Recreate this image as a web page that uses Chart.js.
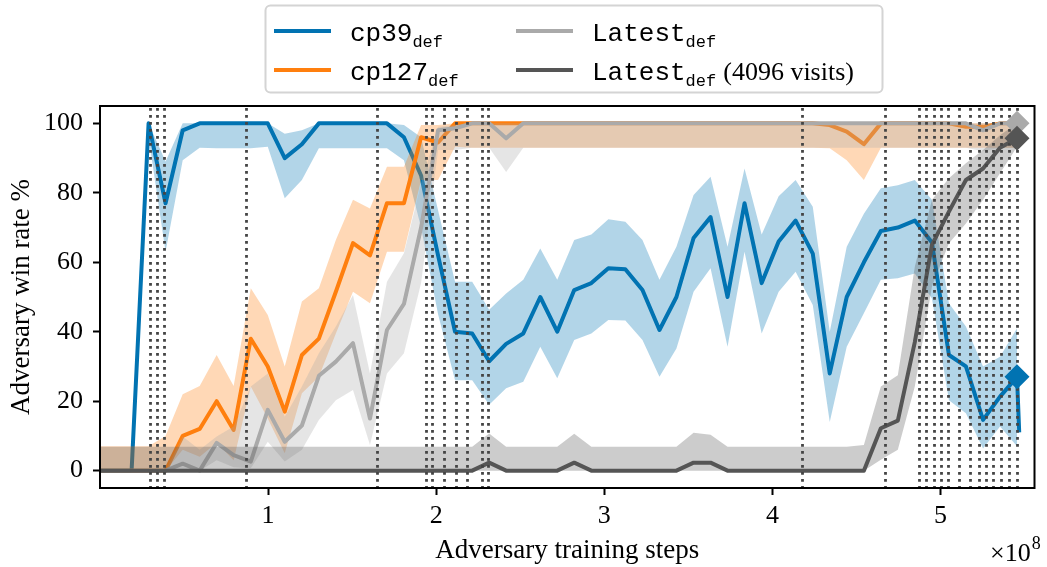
<!DOCTYPE html>
<html>
<head>
<meta charset="utf-8">
<script src="https://cdn.jsdelivr.net/npm/chart.js@4.4.1/dist/chart.umd.min.js"></script>
<style>
  html, body { margin: 0; padding: 0; background: #fff; }
  #wrap { width: 1047px; height: 567px; }
</style>
</head>
<body>
<div id="wrap"><canvas id="winRateChart" width="1047" height="567"></canvas></div>
<script>
// adversary checkpoints, in units of 1e8 training steps
const steps = [-0.015, 0.086, 0.188, 0.289, 0.390, 0.492, 0.593, 0.694, 0.795, 0.897,
  0.998, 1.099, 1.201, 1.302, 1.403, 1.505, 1.606, 1.707, 1.808, 1.910,
  2.011, 2.112, 2.214, 2.315, 2.416, 2.518, 2.619, 2.720, 2.821, 2.923,
  3.024, 3.125, 3.227, 3.328, 3.429, 3.531, 3.632, 3.733, 3.834, 3.936,
  4.037, 4.138, 4.240, 4.341, 4.442, 4.544, 4.645, 4.746, 4.847, 4.949,
  5.050, 5.151, 5.253, 5.354, 5.455];

const cp39 = [0, 0, 0, 100, 77, 98, 100, 100, 100, 100,
  100, 90, 94, 100, 100, 100, 100, 100, 96, 85,
  62, 40, 39.5, 31.5, 36.5, 39.5, 50, 40, 52, 54,
  58.3, 58, 52, 40.5, 50, 67, 73, 50, 77, 54,
  66, 72, 62.5, 28, 50, 60, 69, 70, 72, 65.7,
  33.3, 30, 14.6, 21.3, 27];
const cp39Hi = [0, 0, 0, 100, 89, 100, 100, 100, 100, 100,
  100, 97, 98, 100, 100, 100, 100, 100, 99.5, 96,
  75, 54.4, 54.4, 46.3, 51, 55, 64, 55, 66.4, 68,
  72.4, 71.7, 66.4, 55, 64.5, 79.4, 84.6, 64.5, 87, 68,
  79, 83.7, 76, 40, 64.5, 74, 81.3, 82.2, 83.7, 78,
  48.2, 41.5, 30, 32.8, 41];
const cp39Lo = [0, 0, 0, 96, 63, 89.4, 93, 92.8, 92.8, 92.8,
  93.3, 78.4, 83.7, 92.8, 92.8, 92.8, 92.8, 92.8, 89.4, 70,
  45, 26, 26, 19, 23.7, 25.6, 35.7, 26.6, 37.6, 39.5,
  43.4, 43.2, 37.6, 27, 35.2, 51.5, 58.3, 35.7, 63, 39.5,
  51.5, 57.3, 47.7, 14, 35.7, 45.3, 55, 55.4, 56.8, 49.6,
  20.3, 16.5, 6.4, 12.7, 7];
const cp39TailX = [5.468];
const cp39TailY = [11];

const cp127 = [0, 0, 0, 0, 0, 10, 12, 20, 11.7, 38,
  30, 17, 33.3, 38, 51.5, 65.5, 62, 77, 77, 96,
  94.5, 100, 100, 100, 100, 100, 100, 100, 100, 100,
  100, 100, 100, 100, 100, 100, 100, 100, 100, 100,
  100, 100, 100, 99.5, 97.6, 94, 100, 100, 100, 100,
  100, 99, 99, 100, 100];
const cp127Hi = [7, 7, 7, 7, 10, 22, 24.4, 33.3, 24.4, 52.5,
  44.8, 30, 48.7, 52.5, 66.4, 78, 75.5, 87.5, 87.5, 99.5,
  99.5, 100, 100, 100, 100, 100, 100, 100, 100, 100,
  100, 100, 100, 100, 100, 100, 100, 100, 100, 100,
  100, 100, 100, 100, 100, 100, 100, 100, 100, 100,
  100, 100, 100, 100, 100];
const cp127Lo = [0, 0, 0, 0, 0, 6, 4, 8, 3, 24.2,
  15, 5, 22.3, 27, 39.5, 51.5, 48.2, 63, 63, 83.7,
  83.7, 93.3, 93, 93, 93, 93, 93, 93, 93, 93,
  93, 93, 93, 93, 93, 93, 93, 93, 93, 93,
  93, 93, 93, 92.8, 89.4, 83.7, 93, 93, 93, 93,
  93, 93, 93, 93, 93];

const latest = [0, 0, 0, 0, 0, 2, 0, 8, 4.5, 2.6,
  17.5, 8.3, 13, 27.3, 31.4, 36.7, 15, 40.5, 48, 70,
  98, 98.6, 100, 100, 95.7, 100, 100, 100, 100, 100,
  100, 100, 100, 100, 100, 100, 100, 100, 100, 100,
  100, 100, 100, 100, 100, 100, 100, 100, 100, 100,
  100, 100, 98, 100, 100];
const latestHi = [0, 0, 0, 0, 0, 9.8, 6, 9.8, 12.7, 24.2,
  28, 15.5, 24.2, 33.8, 41.5, 50.6, 28, 54.4, 62.6, 82.7,
  99, 99.5, 100, 100, 100, 100, 100, 100, 100, 100,
  100, 100, 100, 100, 100, 100, 100, 100, 100, 100,
  100, 100, 100, 100, 100, 100, 100, 100, 100, 100,
  100, 100, 100, 100, 100];
const latestLo = [0, 0, 0, 0, 0, 0, 0, 3, 1, 0.7,
  8.3, 2.6, 6, 14.6, 20.3, 23.2, 7.4, 28, 33.8, 54,
  92.3, 92.3, 93, 93, 86, 93, 93, 93, 93, 93,
  93, 93, 93, 93, 93, 93, 93, 93, 93, 93,
  93, 93, 93, 93, 93, 93, 93, 93, 93, 93,
  93, 93, 92, 93, 93];

const latest4096 = [0, 0, 0, 0, 0, 0, 0, 0, 0, 0,
  0, 0, 0, 0, 0, 0, 0, 0, 0, 0,
  0, 0, 0, 2.3, 0, 0, 0, 0, 2.3, 0,
  0, 0, 0, 0, 0, 2.3, 2.3, 0, 0, 0,
  0, 0, 0, 0, 0, 0, 12.2, 14.4, 37, 65,
  74.6, 83.7, 87, 93, 95.7];
const latest4096Hi = [6.9, 6.9, 6.9, 6.9, 6.9, 6.9, 6.9, 6.9, 6.9, 6.9,
  6.9, 6.9, 6.9, 6.9, 6.9, 6.9, 6.9, 6.9, 6.9, 6.9,
  6.9, 6.9, 6.9, 10.7, 6.9, 6.9, 6.9, 6.9, 10.6, 6.9,
  6.9, 6.9, 6.9, 6.9, 6.9, 10.9, 10.3, 6.9, 6.9, 6.9,
  6.9, 6.9, 6.9, 6.9, 6.9, 7.4, 24.2, 27.5, 58.7, 78,
  84.2, 88.5, 92.3, 96.6, 100];
const latest4096Lo = [0, 0, 0, 0, 0, 0, 0, 0, 0, 0,
  0, 0, 0, 0, 0, 0, 0, 0, 0, 0,
  0, 0, 0, 0, 0, 0, 0, 0, 0, 0,
  0, 0, 0, 0, 0, 0, 0, 0, 0, 0,
  0, 0, 0, 0, 0, 0, 3.1, 6, 24.2, 53,
  65.5, 71.2, 78, 85.6, 93.3];

// final evaluation markers (diamonds)
const finalX = [5.455, 5.455, 5.455];
const finalY = [100, 95.7, 27];

// steps where the victim checkpoint changes (dotted verticals)
const switchSteps = [0.296, 0.341, 0.381, 0.871, 1.647, 1.941, 1.976, 2.049, 2.118, 2.186,
  2.271, 2.308, 4.176, 4.671, 4.872, 4.915, 4.959, 5.0, 5.043, 5.108,
  5.175, 5.226, 5.271, 5.312, 5.359, 5.405, 5.453];

const yTicks = [0, 20, 40, 60, 80, 100];
const xTicks = [1, 2, 3, 4, 5];

const BLUE = '#0173b2';
const ORANGE = '#ff7f0e';
const LIGHT = '#aaaaaa';
const DARK = '#555555';
const LINE_W = 4;

const pts = (xs, ys) => ys.map((y, i) => ({ x: xs[i], y }));

const lineSet = (label, ys, color, order, extraX = [], extraY = []) => ({
    label,
    data: pts(steps, ys).concat(pts(extraX, extraY)),
    borderColor: color,
    borderWidth: LINE_W,
    borderJoinStyle: 'round',
    borderCapStyle: 'butt',
    pointRadius: 0,
    fill: false,
    order
});

const bandSets = (ys, lo, fillColor, order, loIndex) => [
    {
        label: 'hi',
        data: pts(steps, ys),
        borderWidth: 0,
        borderColor: 'rgba(0,0,0,0)',
        pointRadius: 0,
        backgroundColor: fillColor,
        fill: { target: loIndex },
        order
    },
    {
        label: 'lo',
        data: pts(steps, lo),
        borderWidth: 0,
        borderColor: 'rgba(0,0,0,0)',
        pointRadius: 0,
        fill: false,
        order
    }
];

const datasets = [
    lineSet('Latest4096', latest4096, DARK, 1),               // 0
    ...bandSets(latest4096Hi, latest4096Lo, 'rgba(85,85,85,0.3)', 2, 2),  // 1,2
    lineSet('Latest', latest, LIGHT, 3),                       // 3
    ...bandSets(latestHi, latestLo, 'rgba(170,170,170,0.3)', 4, 5),       // 4,5
    lineSet('cp127', cp127, ORANGE, 5),                        // 6
    ...bandSets(cp127Hi, cp127Lo, 'rgba(255,127,14,0.3)', 6, 8),          // 7,8
    lineSet('cp39', cp39, BLUE, 7, cp39TailX, cp39TailY),      // 9
    ...bandSets(cp39Hi, cp39Lo, 'rgba(1,115,178,0.3)', 8, 11),            // 10,11
    {
        label: 'final',
        data: pts(finalX, finalY),
        showLine: false,
        pointStyle: 'rectRot',
        pointRadius: 12.5,
        pointBorderWidth: 0,
        pointBackgroundColor: [LIGHT, DARK, BLUE],
        order: 0
    }
];

const legendItems = [
    { color: BLUE, main: 'cp39', col: 0, row: 0 },
    { color: ORANGE, main: 'cp127', col: 0, row: 1 },
    { color: LIGHT, main: 'Latest', col: 1, row: 0 },
    { color: DARK, main: 'Latest', extra: '(4096 visits)', col: 1, row: 1 }
];

const decorPlugin = {
    id: 'decor',
    afterDatasetDraw(chart, args) {
        if (args.index !== 0) return;
        const { ctx, chartArea: a, scales: { x } } = chart;
        ctx.save();
        ctx.beginPath();
        ctx.rect(a.left, a.top, a.right - a.left, a.bottom - a.top);
        ctx.clip();
        ctx.strokeStyle = '#444444';
        ctx.lineWidth = 2.8;
        ctx.setLineDash([2.7, 4.3]);
        switchSteps.forEach((v) => {
            const px = Math.round(x.getPixelForValue(v)) + 0.5;
            ctx.beginPath();
            ctx.moveTo(px, a.top + 2);
            ctx.lineTo(px, a.bottom);
            ctx.stroke();
        });
        ctx.restore();
    },
    afterDraw(chart) {
        const { ctx, chartArea: a } = chart;
        ctx.save();
        // axes frame
        ctx.strokeStyle = '#000';
        ctx.lineWidth = 2;
        ctx.strokeRect(a.left, a.top, a.right - a.left, a.bottom - a.top);

        // x multiplier
        ctx.fillStyle = '#000';
        ctx.textBaseline = 'alphabetic';
        ctx.font = '26px "Liberation Serif"';
        ctx.fillText('\u00d710', 990, 561);
        const w = ctx.measureText('\u00d710').width;
        ctx.font = '18px "Liberation Serif"';
        ctx.fillText('8', 990 + w + 1, 549);

        // legend
        const bx = 265.5, by = 5.5, bw = 617, bh = 87;
        ctx.beginPath();
        ctx.roundRect(bx, by, bw, bh, 5);
        ctx.fillStyle = 'rgba(255,255,255,0.9)';
        ctx.fill();
        ctx.strokeStyle = '#d4d4d4';
        ctx.lineWidth = 2;
        ctx.stroke();

        const colX = [274, 516];
        const rowY = [31, 70];
        legendItems.forEach((it) => {
            const x0 = colX[it.col], y0 = rowY[it.row];
            ctx.strokeStyle = it.color;
            ctx.lineWidth = LINE_W;
            ctx.beginPath();
            ctx.moveTo(x0, y0);
            ctx.lineTo(x0 + 57, y0);
            ctx.stroke();
            let tx = x0 + 76;
            ctx.fillStyle = '#000';
            ctx.font = '26px "Liberation Mono"';
            ctx.fillText(it.main, tx, y0 + 10);
            tx += ctx.measureText(it.main).width;
            ctx.font = '17px "Liberation Mono"';
            ctx.fillText('def', tx, y0 + 16);
            tx += ctx.measureText('def').width;
            if (it.extra) {
                ctx.font = '26px "Liberation Serif"';
                ctx.fillText(it.extra, tx + 7, y0 + 10);
            }
        });
        ctx.restore();
    }
};

const serif = '"Liberation Serif", "Times New Roman", serif';

new Chart(document.getElementById('winRateChart'), {
    type: 'line',
    data: { datasets },
    options: {
        responsive: false,
        animation: false,
        devicePixelRatio: 1,
        layout: { padding: { top: 106, right: 2, left: 0, bottom: 0 } },
        elements: { line: { borderWidth: LINE_W } },
        plugins: {
            legend: { display: false },
            tooltip: { enabled: false },
            filler: { propagate: false }
        },
        scales: {
            x: {
                type: 'linear',
                min: 0,
                max: 5.559,
                afterFit: (scale) => { scale.height = 79; },
                afterBuildTicks: (scale) => { scale.ticks = xTicks.map((v) => ({ value: v })); },
                grid: { drawOnChartArea: false, drawTicks: true, tickLength: 7, tickWidth: 2, tickColor: '#000' },
                border: { display: false },
                ticks: {
                    color: '#000',
                    font: { family: serif, size: 26 },
                    padding: 6,
                    maxRotation: 0,
                    callback: (v) => String(v)
                },
                title: {
                    display: true,
                    text: 'Adversary training steps',
                    color: '#000',
                    font: { family: serif, size: 27 },
                    padding: { top: 0, bottom: 0 }
                }
            },
            y: {
                min: -5,
                max: 105,
                afterFit: (scale) => { scale.width = 100; },
                afterBuildTicks: (scale) => { scale.ticks = yTicks.map((v) => ({ value: v })); },
                grid: { drawOnChartArea: false, drawTicks: true, tickLength: 7, tickWidth: 2, tickColor: '#000' },
                border: { display: false },
                ticks: {
                    color: '#000',
                    font: { family: serif, size: 26 },
                    padding: 10,
                    callback: (v) => String(v)
                },
                title: {
                    display: true,
                    text: 'Adversary win rate %',
                    color: '#000',
                    font: { family: serif, size: 27 },
                    padding: { top: 6, bottom: 0 }
                }
            }
        }
    },
    plugins: [decorPlugin]
});
</script>
</body>
</html>
